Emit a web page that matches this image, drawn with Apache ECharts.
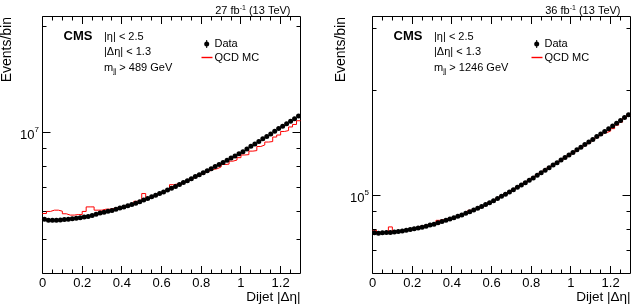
<!DOCTYPE html>
<html><head><meta charset="utf-8">
<script src="https://cdn.jsdelivr.net/npm/echarts@6/dist/echarts.min.js"></script>
<style>html,body{margin:0;padding:0;background:#fff}#c{width:636px;height:307px}</style>
</head><body><div id="c"></div>
<script>
// ---- data ----
const binWidth = 0.02;
const nBins = 65;
const xTickLabels = ['0','0.2','0.4','0.6','0.8','1','1.2'];
const xMajorTicks = [0,0.2,0.4,0.6,0.8,1.0,1.2];
const xMinorTicks = [0.05,0.1,0.15,0.25,0.3,0.35,0.45,0.5,0.55,0.65,0.7,0.75,0.85,0.9,0.95,1.05,1.1,1.15,1.25];

const leftData = [5.69e6,5.66e6,5.66e6,5.66e6,5.67e6,5.68e6,5.69e6,5.71e6,5.73e6,5.75e6,
 5.78e6,5.80e6,5.83e6,5.88e6,5.93e6,5.96e6,6.00e6,6.03e6,6.08e6,6.13e6,
 6.17e6,6.22e6,6.27e6,6.32e6,6.38e6,6.45e6,6.52e6,6.59e6,6.66e6,6.73e6,
 6.80e6,6.89e6,6.97e6,7.05e6,7.14e6,7.23e6,7.32e6,7.41e6,7.52e6,7.61e6,
 7.71e6,7.80e6,7.91e6,8.02e6,8.13e6,8.24e6,8.36e6,8.48e6,8.59e6,8.72e6,
 8.84e6,8.99e6,9.15e6,9.29e6,9.44e6,9.61e6,9.76e6,9.92e6,10.09e6,10.28e6,
 10.43e6,10.60e6,10.77e6,10.95e6,11.15e6];
const leftMC = [5.91e6,5.99e6,6.04e6,6.04e6,6.00e6,5.90e6,5.85e6,5.85e6,5.87e6,5.87e6,
 5.99e6,6.17e6,6.17e6,6.04e6,6.04e6,6.08e6,6.08e6,6.11e6,6.13e6,6.16e6,
 6.21e6,6.24e6,6.29e6,6.40e6,6.40e6,6.73e6,6.55e6,6.61e6,6.68e6,6.76e6,
 6.82e6,6.90e6,7.13e6,7.16e6,7.13e6,7.24e6,7.33e6,7.43e6,7.50e6,7.61e6,
 7.70e6,7.78e6,7.87e6,7.91e6,8.00e6,8.13e6,8.15e6,8.31e6,8.37e6,8.50e6,
 8.65e6,8.67e6,8.87e6,8.90e6,9.14e6,9.23e6,9.41e6,9.44e6,9.72e6,9.85e6,
 10.08e6,10.14e6,10.38e6,10.55e6,10.81e6];
const rightData = [7.84e4,7.82e4,7.84e4,7.85e4,7.86e4,7.88e4,7.91e4,7.94e4,7.97e4,8.01e4,
 8.05e4,8.09e4,8.13e4,8.19e4,8.25e4,8.30e4,8.37e4,8.44e4,8.51e4,8.59e4,
 8.66e4,8.74e4,8.82e4,8.91e4,9.01e4,9.11e4,9.21e4,9.32e4,9.44e4,9.55e4,
 9.68e4,9.82e4,9.97e4,10.11e4,10.26e4,10.41e4,10.57e4,10.73e4,10.90e4,11.07e4,
 11.25e4,11.44e4,11.64e4,11.83e4,12.03e4,12.24e4,12.43e4,12.65e4,12.86e4,13.08e4,
 13.30e4,13.53e4,13.77e4,14.00e4,14.25e4,14.49e4,14.76e4,15.00e4,15.27e4,15.55e4,
 15.83e4,16.11e4,16.41e4,16.72e4,17.03e4];
const rightMC = [7.98e4,7.86e4,7.86e4,7.87e4,8.15e4,7.90e4,7.93e4,7.97e4,8.00e4,8.05e4,
 8.10e4,8.18e4,8.21e4,8.26e4,8.29e4,8.34e4,8.51e4,8.55e4,8.60e4,8.62e4,
 8.68e4,8.75e4,8.83e4,8.92e4,9.09e4,9.13e4,9.22e4,9.33e4,9.45e4,9.58e4,
 9.70e4,9.84e4,9.99e4,10.14e4,10.28e4,10.43e4,10.59e4,10.75e4,10.93e4,11.11e4,
 11.30e4,11.48e4,11.68e4,11.87e4,12.07e4,12.25e4,12.44e4,12.63e4,12.85e4,13.06e4,
 13.27e4,13.50e4,13.72e4,13.94e4,14.18e4,14.42e4,14.66e4,14.90e4,15.15e4,15.30e4,
 15.55e4,15.91e4,16.23e4,16.66e4,17.00e4];

const leftYMajor = [1e7];
const leftYMinor = [5e6,6e6,7e6,8e6,9e6,2e7];
const rightYMajor = [1e5];
const rightYMinor = [7e4,8e4,9e4,2e5,3e5];

const leftRange = [4e6, 2.13e7];
const rightRange = [6e4, 3.25e5];

const leftInfo = {lumi:'27 fb', mjj:' > 489 GeV'};
const rightInfo = {lumi:'36 fb', mjj:' > 1246 GeV'};

// ---- build ----
const FONT = '"Liberation Sans", Arial, Helvetica, sans-serif';
const RED = '#ff0000';
const edges = Array.from({length:nBins+1},(_,i)=>+(i*binWidth).toFixed(4));
const centers = Array.from({length:nBins},(_,i)=>(edges[i]+edges[i+1])/2);

const GT = 16.5, GH = 257, GW = 258;
const panels = [
  {ox:42.5, data:leftData, mc:leftMC, range:leftRange, ymaj:leftYMajor, ymin:leftYMinor, info:leftInfo, ytitleX:14},
  {ox:372.5, data:rightData, mc:rightMC, range:rightRange, ymaj:rightYMajor, ymin:rightYMinor, info:rightInfo, ytitleX:348}
];

const grid=[], xAxis=[], yAxis=[], series=[], graphic=[];
panels.forEach((p,i)=>{
  grid.push({left:p.ox, top:GT, width:GW, height:GH, show:true, borderColor:'#000', borderWidth:1, backgroundColor:'rgba(0,0,0,0)', containLabel:false, outerBoundsMode:'none'});
  xAxis.push({gridIndex:i, type:'value', min:0, max:1.3, interval:0.2,
    axisLine:{show:false}, axisTick:{show:false}, splitLine:{show:false},
    axisLabel:{fontSize:13, color:'#000', fontFamily:FONT, margin:3, showMaxLabel:false,
      formatter:v=>{const k=Math.round(v/0.2); return Math.abs(v-k*0.2)<1e-6 && k<xTickLabels.length ? xTickLabels[k] : '';}}});
  yAxis.push({gridIndex:i, type:'log', logBase:10, min:p.range[0], max:p.range[1],
    axisLine:{show:false}, axisTick:{show:false}, splitLine:{show:false},
    axisLabel:{margin:3.5, color:'#000', showMinLabel:true, showMaxLabel:true,
      formatter:v=>{const e=Math.log10(v); const r=Math.round(e); return Math.abs(e-r)<1e-6 ? '{b|10}{s|'+r+'}' : '';},
      rich:{b:{fontSize:13, fontFamily:FONT, color:'#000', padding:[5,0,0,0], lineHeight:14},
            s:{fontSize:8, fontFamily:FONT, color:'#000', lineHeight:13, verticalAlign:'top'}}}});
  // MC histogram
  const hist=[];
  p.mc.forEach((v,j)=>{hist.push([edges[j],v]); hist.push([edges[j+1],v]);});
  series.push({type:'line', xAxisIndex:i, yAxisIndex:i, data:hist, symbol:'none', lineStyle:{color:RED, width:1, opacity:1}, z:2, silent:true});
  series.push({type:'scatter', xAxisIndex:i, yAxisIndex:i, data:centers.map((c,j)=>[c,p.data[j]]), symbol:'circle', symbolSize:5, itemStyle:{color:'#000', opacity:1, borderWidth:0}, z:3, silent:true});
  // ticks
  const tk=[];
  xMajorTicks.forEach(t=>tk.push([t,p.range[0],0]));
  xMinorTicks.forEach(t=>tk.push([t,p.range[0],1]));
  p.ymaj.forEach(t=>tk.push([0,t,2]));
  p.ymin.forEach(t=>tk.push([0,t,3]));
  series.push({type:'custom', xAxisIndex:i, yAxisIndex:i, data:tk, z:4, silent:true,
    encode:{x:0,y:1},
    renderItem:(params,api)=>{
      const cs=params.coordSys; const t=api.value(2);
      const pt=api.coord([api.value(0),api.value(1)]);
      const st={stroke:'#000', lineWidth:1};
      if(t<2){
        const L=t===0?7.5:4; const x=Math.round(pt[0]-0.5)+0.5; const yb=cs.y+cs.height, yt=cs.y;
        return {type:'group',children:[
          {type:'line',shape:{x1:x,y1:yb,x2:x,y2:yb-L},style:st},
          {type:'line',shape:{x1:x,y1:yt,x2:x,y2:yt+L},style:st}]};
      } else {
        const L=t===2?8:4; const y=Math.round(pt[1]-0.5)+0.5; const xl=cs.x, xr=cs.x+cs.width;
        return {type:'group',children:[
          {type:'line',shape:{x1:xl,y1:y,x2:xl+L,y2:y},style:st},
          {type:'line',shape:{x1:xr,y1:y,x2:xr-L,y2:y},style:st}]};
      }
    }});
  // legend sample for MC drawn as a tiny custom element in pixel space of the grid
  const ox=p.ox;
  // texts
  graphic.push({type:'text', x:ox+248, y:10.5, style:{text:'{a|'+p.info.lumi+'}{s|-1}{a| (13 TeV)}', textAlign:'right', textVerticalAlign:'middle',
    rich:{a:{fontSize:11, fontFamily:FONT, fill:'#000', lineHeight:12, verticalAlign:'bottom'}, s:{fontSize:7, fontFamily:FONT, fill:'#000', lineHeight:8, verticalAlign:'top'}}}});
  graphic.push({type:'text', x:p.ytitleX, y:17, rotation:Math.PI/2, style:{text:'Events/bin', fontSize:14, fontFamily:FONT, fill:'#000', textAlign:'right', textVerticalAlign:'bottom'}});
  graphic.push({type:'text', x:ox+GW, y:297.5, style:{text:'Dijet |Δη|', fontSize:13.5, fontFamily:FONT, fill:'#000', textAlign:'right', textVerticalAlign:'middle'}});
  graphic.push({type:'text', x:ox+21, y:36.3, style:{text:'CMS', fontSize:13, fontWeight:'bold', fontFamily:FONT, fill:'#000', textAlign:'left', textVerticalAlign:'middle'}});
  graphic.push({type:'text', x:ox+61.5, y:36.5, style:{text:'|η| < 2.5', fontSize:11, fontFamily:FONT, fill:'#000', textAlign:'left', textVerticalAlign:'middle'}});
  graphic.push({type:'text', x:ox+61.5, y:52.2, style:{text:'|Δη| < 1.3', fontSize:11, fontFamily:FONT, fill:'#000', textAlign:'left', textVerticalAlign:'middle'}});
  graphic.push({type:'text', x:ox+61.5, y:68.5, style:{text:'{a|m}{b|jj}{a|'+p.info.mjj+'}', textAlign:'left', textVerticalAlign:'middle',
    rich:{a:{fontSize:11, fontFamily:FONT, fill:'#000', lineHeight:12, verticalAlign:'top'}, b:{fontSize:7, fontFamily:FONT, fill:'#000', lineHeight:8, verticalAlign:'bottom', padding:[0,0,0,0]}}}});
  // legend
  graphic.push({type:'line', shape:{x1:ox+164.2, y1:40, x2:ox+164.2, y2:48}, style:{stroke:'#000', lineWidth:1}});
  graphic.push({type:'circle', shape:{cx:ox+164.2, cy:44, r:2.5}, style:{fill:'#000'}});
  graphic.push({type:'text', x:ox+172, y:44, style:{text:'Data', fontSize:11, fontFamily:FONT, fill:'#000', textAlign:'left', textVerticalAlign:'middle'}});
  graphic.push({type:'line', z:100, shape:{x1:ox+159, y1:57.5, x2:ox+170, y2:57.5}, style:{stroke:RED, fill:null, lineWidth:1.4, opacity:1}});
  graphic.push({type:'text', x:ox+172, y:57.5, style:{text:'QCD MC', fontSize:11, fontFamily:FONT, fill:'#000', textAlign:'left', textVerticalAlign:'middle'}});
});

const chart = echarts.init(document.getElementById('c'), null, {renderer:'canvas'});
chart.setOption({animation:false, backgroundColor:'#fff', grid, xAxis, yAxis, series, graphic});
</script></body></html>
